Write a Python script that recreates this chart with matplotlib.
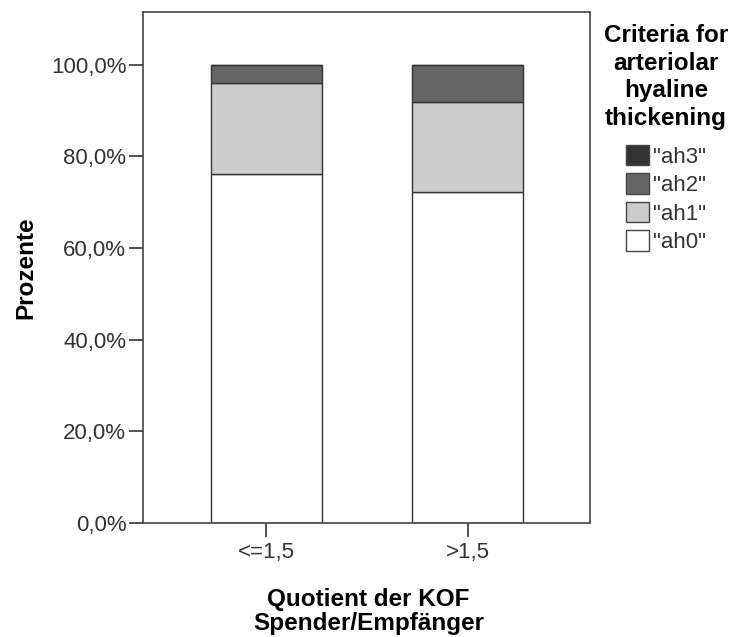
import matplotlib.pyplot as plt
from matplotlib.patches import Patch

plt.rcParams['font.family'] = ['Liberation Sans', 'DejaVu Sans']

groups = ['<=1,5', '>1,5']
ah0 = [76.1, 72.3]
ah1 = [20.0, 19.5]
ah2 = [3.9, 8.2]
ah3 = [0.0, 0.0]

series = [('"ah0"', ah0, '#ffffff'),
          ('"ah1"', ah1, '#cccccc'),
          ('"ah2"', ah2, '#666666'),
          ('"ah3"', ah3, '#333333')]

fig = plt.figure(figsize=(7.32, 6.37), dpi=100)
ax = fig.add_axes([143 / 732, 1 - 523 / 637, 447 / 732, 511 / 637])

x = list(range(len(groups)))
bottom = [0.0] * len(groups)
for name, vals, col in series:
    ax.bar(x, vals, width=0.55, bottom=bottom, color=col,
           edgecolor='#333333', linewidth=1.0, label=name)
    bottom = [b + v for b, v in zip(bottom, vals)]

ax.set_xlim(-0.61, 1.605)
ax.set_ylim(0, 111.5)
ax.set_yticks([0, 20, 40, 60, 80, 100])
ax.set_yticklabels(['0,0%', '20,0%', '40,0%', '60,0%', '80,0%', '100,0%'])
ax.set_xticks(x)
ax.set_xticklabels(groups)
ax.tick_params(axis='both', direction='out', length=10, width=1.2,
               colors='#333333', labelsize=16, labelcolor='#333333', pad=2)
ax.tick_params(axis='x', pad=4)
for s in ax.spines.values():
    s.set_color('#444444')
    s.set_linewidth(1.2)

ax.set_ylabel('Prozente', fontsize=17.5, fontweight='bold')
ax.yaxis.set_label_coords(-0.237, 0.5)
ax.set_xlabel('Quotient der KOF\nSpender/Empfänger', fontsize=17.5,
              fontweight='bold', linespacing=1.05)
ax.xaxis.set_label_coords(0.505, -0.128)

handles = [Patch(facecolor=c, edgecolor='#444444', label=n)
           for n, v, c in reversed(series)]
leg = fig.legend(handles=handles, loc='upper center',
                 bbox_to_anchor=(666 / 732, 1 - 24 / 637),
                 title='Criteria for\narteriolar\nhyaline\nthickening',
                 frameon=False, fontsize=16, handlelength=1.05,
                 handleheight=1.05, handletextpad=0.15, labelspacing=0.25,
                 borderaxespad=0, borderpad=0, alignment='center')
leg.get_title().set_fontweight('bold')
leg.get_title().set_fontsize(17.5)
leg.get_title().set_linespacing(1.25)
leg.get_title().set_multialignment('center')
leg._legend_box.sep = 11
for t in leg.get_texts():
    t.set_color('#333333')

fig.savefig('out.png', dpi=100)
